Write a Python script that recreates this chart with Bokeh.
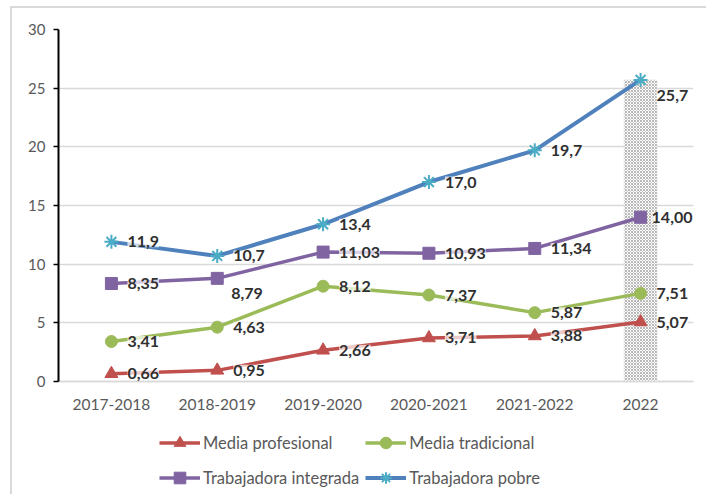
from bokeh.plotting import figure
from bokeh.models import (ColumnDataSource, Legend, LegendItem, LabelSet, FactorRange,
                          Range1d, FixedTicker)
from bokeh.core.properties import value
from bokeh.embed import file_html
from bokeh.resources import INLINE

categories = ["2017-2018", "2018-2019", "2019-2020", "2020-2021", "2021-2022", "2022"]
media_profesional = [0.66, 0.95, 2.66, 3.71, 3.88, 5.07]
media_tradicional = [3.41, 4.63, 8.12, 7.37, 5.87, 7.51]
trabajadora_integrada = [8.35, 8.79, 11.03, 10.93, 11.34, 14.00]
trabajadora_pobre = [11.9, 10.7, 13.4, 17.0, 19.7, 25.7]
highlight_category = ["2022"]
highlight_value = [25.7]
y_ticks = [0, 5, 10, 15, 20, 25, 30]

FONT = "Lato"
TICK_COLOR = "#595959"
GRID_COLOR = "#d9d9d9"

# layout geometry (pixels)
FRAME_H = 465          # frame extends below the value area to hold the legend
PX_PER_UNIT = 352 / 30  # value area: 30 -> 0 spans 352 px
Y_MAX = 30
Y_MIN = Y_MAX - FRAME_H / PX_PER_UNIT

p = figure(frame_width=635, frame_height=FRAME_H,
           x_range=FactorRange(*categories, range_padding=0),
           y_range=Range1d(Y_MIN, Y_MAX),
           output_backend="svg", toolbar_location=None,
           min_border_left=46, min_border_right=13, min_border_top=21, min_border_bottom=0)
p.styles = {"border-left": f"2px solid {GRID_COLOR}", "border-top": f"2px solid {GRID_COLOR}",
            "margin-left": "10px", "margin-top": "6px"}
p.outline_line_color = None
p.background_fill_color = "white"
p.border_fill_color = "white"

# grid
p.xgrid.grid_line_color = None
p.ygrid.grid_line_color = GRID_COLOR
p.ygrid.grid_line_width = 1.5
p.yaxis.ticker = FixedTicker(ticks=y_ticks)

# y axis
p.yaxis.bounds = (0, Y_MAX)
p.yaxis.axis_line_color = "black"
p.yaxis.axis_line_width = 2
p.yaxis.major_tick_line_color = "black"
p.yaxis.major_tick_line_width = 1.5
p.yaxis.major_tick_out = 5
p.yaxis.major_tick_in = 0
p.yaxis.minor_tick_line_color = None
p.yaxis.major_label_standoff = 8
p.yaxis.major_label_text_font = FONT
p.yaxis.major_label_text_font_size = "15px"
p.yaxis.major_label_text_color = TICK_COLOR

# x axis at value 0
p.xaxis.fixed_location = 0
p.xaxis.axis_line_color = GRID_COLOR
p.xaxis.axis_line_width = 1.5
p.xaxis.major_tick_line_color = None
p.xaxis.minor_tick_line_color = None
p.xaxis.major_label_standoff = 11
p.xaxis.major_label_text_font = FONT
p.xaxis.major_label_text_font_size = "15.5px"
p.xaxis.major_label_text_color = TICK_COLOR

# highlighted bar for 2022
bar_src = ColumnDataSource(dict(x=highlight_category, top=highlight_value))
p.vbar(x="x", top="top", bottom=0, width=0.31, source=bar_src, fill_color="white",
       line_color="#d9d9d9", line_width=0.5,
       hatch_pattern="diagonal_cross", hatch_color="#b8b8b8", hatch_scale=3, hatch_weight=1)

series = [
    ("Media profesional", media_profesional, "#c0504d", "#c0504d", "triangle", 13, 3.5, 2),
    ("Media tradicional", media_tradicional, "#9bbb59", "#9bbb59", "circle", 12, 3.5, 2),
    ("Trabajadora integrada", trabajadora_integrada, "#8064a2", "#8064a2", "square", 12, 3.5, 2),
    ("Trabajadora pobre", trabajadora_pobre, "#4f81bd", "#4bacc6", "asterisk", 14, 4, 1),
]

items = []
for name, vals, lcolor, mcolor, marker, msize, lw, dec in series:
    labels = [f"{v:.{dec}f}".replace(".", ",") for v in vals]
    src = ColumnDataSource(dict(x=categories, y=vals, label=labels))
    r1 = p.line("x", "y", source=src, line_color=lcolor, line_width=lw)
    r2 = p.scatter("x", "y", source=src, marker=marker, size=msize,
                   fill_color=mcolor, line_color=mcolor, line_width=2 if marker == "asterisk" else 1)
    items.append(LegendItem(label=name, renderers=[r1, r2]))
    xo = [16] * len(vals)
    yo = [0] * len(vals)
    if name == "Trabajadora integrada":
        xo[1], yo[1] = 14, -15
        xo[5] = 11
    if name == "Trabajadora pobre":
        xo[5], yo[5] = 16, -16
    src.data["xo"] = xo
    src.data["yo"] = yo
    p.add_layout(LabelSet(x="x", y="y", text="label", source=src, x_offset="xo", y_offset="yo",
                          text_font=value(FONT), text_font_style="bold", text_font_size="16px",
                          text_color="#303030", text_baseline="middle", text_align="left",
                          background_fill_color="white", background_fill_alpha=0.7))

legend = Legend(items=items, location=(101, 2), orientation="horizontal", ncols=2,
                glyph_width=41, glyph_height=29, label_height=29, label_standoff=3, spacing=6,
                label_text_font=FONT, label_text_font_size="16.5px", label_text_color=TICK_COLOR,
                padding=0, margin=0, border_line_color=None, background_fill_alpha=0)
p.add_layout(legend, "center")

open("out.html", "w").write(file_html(p, INLINE))
